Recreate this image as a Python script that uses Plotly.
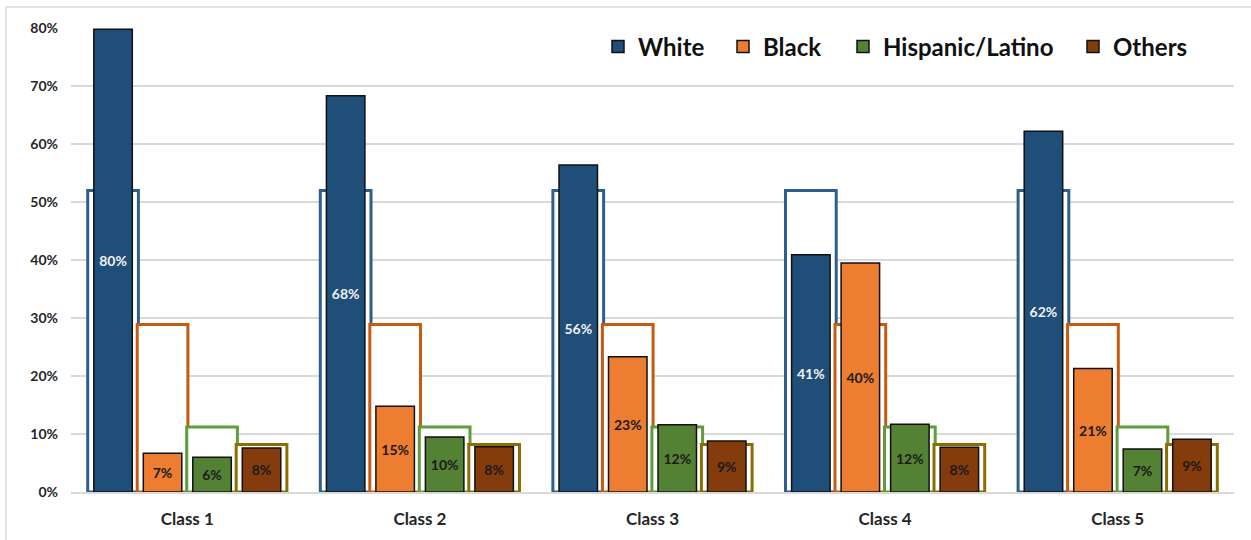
import plotly.graph_objects as go

# Share of each group per latent class (filled bars)
classes = ["Class 1", "Class 2", "Class 3", "Class 4", "Class 5"]
white = [0.798, 0.683, 0.564, 0.409, 0.622]
black = [0.067, 0.148, 0.233, 0.395, 0.213]
hispanic = [0.060, 0.095, 0.116, 0.117, 0.074]
others = [0.076, 0.078, 0.088, 0.077, 0.091]

# Overall population share of each group (outlined bars behind)
pop_white = [0.520] * 5
pop_black = [0.289] * 5
pop_hispanic = [0.112] * 5
pop_others = [0.082] * 5

names = ["White", "Black", "Hispanic/Latino", "Others"]
fill_colors = ["#1F4E79", "#ED7D31", "#548235", "#843C0C"]
outline_colors = ["#2E5F8F", "#C55A11", "#5E9C3E", "#8C6D00"]
text_colors = ["#F2F2F2", "#1A1A1A", "#1A1A1A", "#1A1A1A"]

series = [white, black, hispanic, others]
pop_series = [pop_white, pop_black, pop_hispanic, pop_others]

FONT = "Lato"
pitch = 0.2128
fill_w = 0.1655
outline_w = 0.218

# chart geometry (px)
W, H = 1251, 540
ML, MR, MT, MB = 71, 17, 28, 48
PW = W - ML - MR
PH = H - MT - MB

fig = go.Figure()

# outlined population bars first, so the class bars sit on top
for i, (vals, col) in enumerate(zip(pop_series, outline_colors)):
    centre = (i - 1.5) * pitch
    fig.add_trace(go.Bar(
        x=classes, y=vals,
        width=outline_w, offset=centre - outline_w / 2,
        marker=dict(color="white", line=dict(color=col, width=3)),
        showlegend=False, hoverinfo="skip",
    ))

legend_px = [598, 723, 843, 1073]
for i, (vals, name, col, tcol) in enumerate(zip(series, names, fill_colors, text_colors)):
    centre = (i - 1.5) * pitch
    lg = "legend" if i == 0 else f"legend{i + 1}"
    fig.add_trace(go.Bar(
        x=classes, y=vals, name=name,
        width=fill_w, offset=centre - fill_w / 2,
        marker=dict(color=col, line=dict(color="#111111", width=1.5)),
        texttemplate="%{y:.0%}",
        textposition="inside", insidetextanchor="middle", textangle=0,
        constraintext="none",
        textfont=dict(family=FONT, size=14, color=tcol, weight="bold"),
        legend=lg,
    ))

legend_y = (H - MB - 47) / PH
legends = {}
for i, px in enumerate(legend_px):
    key = "legend" if i == 0 else f"legend{i + 1}"
    legends[key] = dict(
        x=(px - ML) / PW, xanchor="left",
        y=legend_y, yanchor="middle",
        orientation="h",
        bgcolor="rgba(0,0,0,0)",
        font=dict(family=FONT, size=24, color="#111111", weight="bold"),
    )

# light frame on the top and left edges of the chart area
fx0 = (6 - ML) / PW
fy1 = (H - MB - 7) / PH
shapes = [
    dict(type="line", xref="paper", yref="paper", x0=fx0, x1=1.2, y0=fy1, y1=fy1,
         line=dict(color="#D9D9D9", width=1.5)),
    dict(type="line", xref="paper", yref="paper", x0=fx0, x1=fx0, y0=fy1, y1=-0.3,
         line=dict(color="#D9D9D9", width=1.5)),
]

fig.update_layout(
    width=W, height=H,
    margin=dict(l=ML, r=MR, t=MT, b=MB, pad=0),
    barmode="overlay",
    plot_bgcolor="white", paper_bgcolor="white",
    shapes=shapes,
    **legends,
)

fig.update_xaxes(
    showgrid=False, showline=True, linecolor="#D9D9D9", linewidth=1.5,
    ticks="", ticklabelstandoff=11, automargin=False,
    tickfont=dict(family=FONT, size=17, color="#262626", weight="bold"),
)
fig.update_yaxes(
    range=[0, 0.8], dtick=0.1, tickformat=".0%",
    showgrid=True, gridcolor="#D9D9D9", gridwidth=1.5,
    zeroline=False, showline=False, ticks="", ticklabelstandoff=12,
    automargin=False,
    tickfont=dict(family=FONT, size=14, color="#262626", weight="bold"),
)

fig.write_html("out.html")
